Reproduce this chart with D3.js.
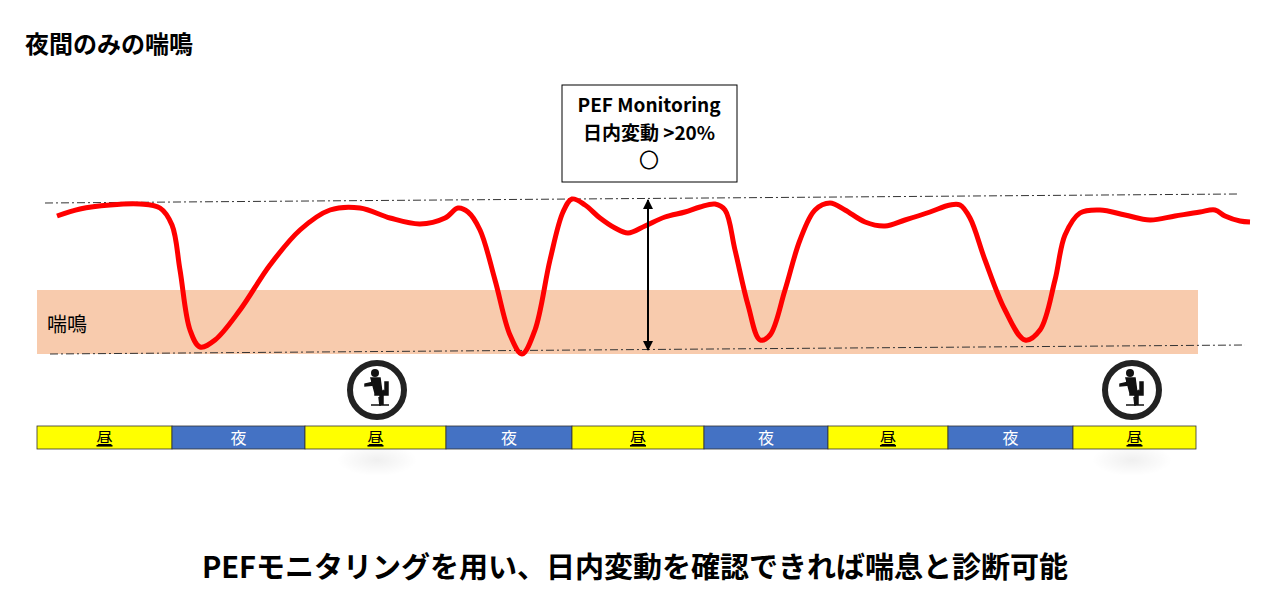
<!DOCTYPE html>
<html><head><meta charset="utf-8">
<script src="https://cdn.jsdelivr.net/npm/d3@7"></script>
<style>body{margin:0;background:#fff;}svg{font-family:"Noto Sans CJK JP","Noto Sans",sans-serif;}</style>
</head><body><svg id="c" width="1270" height="600"></svg>
<script>
// time axis (arbitrary units) and PEF values
const times = [57,80,110,140,160,172,180,190,200,215,240,270,300,330,360,390,420,445,458,468,480,495,510,522,535,550,563,572,585,600,615,628,645,665,685,700,715,725,735,748,760,770,785,800,815,830,845,865,885,905,930,950,960,970,985,1005,1025,1040,1055,1065,1080,1100,1125,1150,1175,1200,1215,1225,1240,1250];
const pef =   [184,191,195,196,192,175,130,70,53,60,90,135,170,190,192,182,176,182,192,188,170,120,65,46,70,140,188,201,195,182,172,167,174,183,188,193,196,190,150,95,60,65,110,160,190,197,190,178,174,180,188,195,195,182,140,90,60,70,120,165,187,190,185,180,184,188,190,184,179,178];
const periods = ["昼","夜","昼","夜","昼","夜","昼","夜","昼"];
const periodBounds = [37,172,305,446,572,704,828,948,1073,1196];
const wheezeBand = [46,110];   // PEF range labelled 喘鳴
const refHigh = [197,206], refLow = [46,55]; // dash-dot reference lines (left,right)
const title = "夜間のみの喘鳴";
const caption = "PEFモニタリングを用い、日内変動を確認できれば喘息と診断可能";
const boxLines = ["PEF Monitoring","日内変動 >20%","〇"];

const svg = d3.select("#c");
const x = d3.scaleLinear().domain([0,1270]).range([0,1270]);
const y = d3.scaleLinear().domain([0,400]).range([400,0]);

svg.append("text").attr("x",25).attr("y",53).attr("font-size",24).attr("font-weight","bold").text(title);

svg.append("rect").attr("x",x(37)).attr("width",x(1198)-x(37))
  .attr("y",y(wheezeBand[1])).attr("height",y(wheezeBand[0])-y(wheezeBand[1])).attr("fill","#f8cbad");
svg.append("text").attr("x",47).attr("y",332).attr("font-size",20).text("喘鳴");

svg.append("line").attr("x1",x(45)).attr("x2",x(1237)).attr("y1",y(refHigh[0])).attr("y2",y(refHigh[1]))
  .attr("stroke","#333").attr("stroke-width",1).attr("stroke-dasharray","8,3,2,3");
svg.append("line").attr("x1",x(50)).attr("x2",x(1245)).attr("y1",y(refLow[0])).attr("y2",y(refLow[1]))
  .attr("stroke","#333").attr("stroke-width",1).attr("stroke-dasharray","8,3,2,3");

const line = d3.line().x((d,i)=>x(times[i])).y(d=>y(d)).curve(d3.curveCatmullRom.alpha(0.5));
svg.append("path").attr("d",line(pef)).attr("fill","none").attr("stroke","#ff0000").attr("stroke-width",5);

const defs = svg.append("defs");
defs.append("marker").attr("id","ah").attr("viewBox","0 0 10 10").attr("refX",9).attr("refY",5)
  .attr("markerWidth",5).attr("markerHeight",5).attr("orient","auto-start-reverse")
  .append("path").attr("d","M0,0L10,5L0,10z").attr("fill","#000");
svg.append("line").attr("x1",x(648)).attr("x2",x(648)).attr("y1",y(200)).attr("y2",y(50))
  .attr("stroke","#000").attr("stroke-width",2).attr("marker-start","url(#ah)").attr("marker-end","url(#ah)");

svg.append("rect").attr("x",562).attr("y",85).attr("width",175).attr("height",97).attr("fill","#fff").attr("stroke","#000");
boxLines.forEach((t,i)=>svg.append("text").attr("x",649).attr("y",112+i*28).attr("text-anchor","middle")
  .attr("font-size",i==2?20:19).attr("font-weight",i==2?"normal":"bold").text(t));

const rg = defs.append("radialGradient").attr("id","sh");
rg.append("stop").attr("offset","0%").attr("stop-color","#000").attr("stop-opacity",0.06);
rg.append("stop").attr("offset","100%").attr("stop-color","#000").attr("stop-opacity",0);
[377,1132].forEach(cx=>svg.append("ellipse").attr("cx",cx).attr("cy",460).attr("rx",40).attr("ry",16).attr("fill","url(#sh)"));

periods.forEach((p,i)=>{
  const x0=x(periodBounds[i]), x1=x(periodBounds[i+1]);
  svg.append("rect").attr("x",x0).attr("y",426).attr("width",x1-x0).attr("height",23)
    .attr("fill",p=="昼"?"#ffff00":"#4472c4").attr("stroke","#333").attr("stroke-width",0.8);
  svg.append("text").attr("x",(x0+x1)/2).attr("y",444).attr("text-anchor","middle").attr("font-size",16)
    .attr("fill",p=="昼"?"#000":"#fff").attr("text-decoration",p=="昼"?"underline":null).text(p);
});

[377,1132].forEach(cx=>{
  const g=svg.append("g").attr("transform",`translate(${cx},390)`);
  g.append("circle").attr("r",27).attr("fill","#fff").attr("stroke","#222").attr("stroke-width",6);
  g.append("circle").attr("cx",-2).attr("cy",-17).attr("r",4).attr("fill","#111");
  g.append("path").attr("d","M-6,-12 L3,-12 L5,3 L-2,3 Z M-3,-8 L-12,-6 L-12,-4 L-3,-5 Z M-2,1 L8,1 L8,5 L-2,5 Z M6,1 L6,14 L3,14 L3,4 Z M8,-8 L11,-8 L11,5 L8,5 Z M2,7 L3,16 M-6,15 L12,15")
    .attr("fill","#111").attr("stroke","#111").attr("stroke-width",1.5);
});

svg.append("text").attr("x",635).attr("y",578).attr("text-anchor","middle").attr("font-size",29).attr("font-weight","bold").text(caption);
</script></body></html>
